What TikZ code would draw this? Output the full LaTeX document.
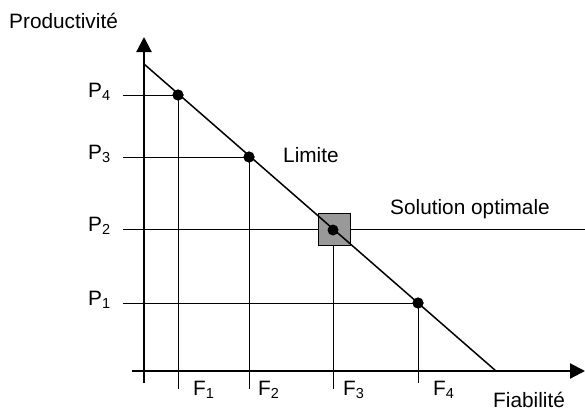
\documentclass[tikz,border=0pt]{standalone}
\usepackage{fontspec}
\setmainfont{Liberation Sans}
\usetikzlibrary{arrows.meta}
\newcommand{\mysub}[1]{\raisebox{-3.5pt}{\fontsize{14.5}{14.5}\selectfont #1}}
\begin{document}
\begin{tikzpicture}[x=1pt,y=-1pt,
  axis/.style={line width=2.2pt,-{Triangle[length=15pt,width=15pt]}},
  guide/.style={line width=0.8pt},
  limitline/.style={line width=1.5pt},
  dot/.style={circle,fill=black,inner sep=0pt,minimum size=11pt},
  optbox/.style={draw=black,line width=1pt,fill=black!40,minimum size=32pt,inner sep=0pt},
  lbl/.style={inner sep=0pt,anchor=base west,font=\fontsize{20.8}{24}\selectfont}]
\useasboundingbox (0,0) rectangle (585,412);
% coordinates
\coordinate (yb) at (144,383);
\coordinate (yt) at (144,37);
\coordinate (xl) at (132,371);
\coordinate (xr) at (585,371);
\coordinate (lt) at (144,64);
\coordinate (lb) at (496,371);
\coordinate (h4) at (123,95);
\coordinate (h3) at (123,157);
\coordinate (h2) at (123,229);
\coordinate (h1) at (123,303);
\coordinate (h2r) at (585,229);
\coordinate (v4) at (178,389);
\coordinate (v3) at (249,389);
\coordinate (v2) at (333,389);
\coordinate (v1) at (418,383);
% points
\node[dot] (d4) at (178,95) {};
\node[dot] (d3) at (249,157) {};
\node[dot] (d1) at (418,303) {};
\node[optbox] (sq) at (334,229) {};
% guides
\draw[guide] (h4) -- (d4.center) -- (v4);
\draw[guide] (h3) -- (d3.center) -- (v3);
\draw[guide] (h1) -- (d1.center) -- (v1);
\draw[guide] (h2) -- (sq.west);
\draw[guide] (sq.east) -- (h2r);
\draw[guide] (sq.south -| v2) -- (v2);
% redraw square on top of guides
\node[optbox] (sq2) at (334,229) {};
% limit line
\draw[limitline] (lt) -- (lb);
\node[dot] (d2) at (333,230) {};
\node[dot] at (d4) {};
\node[dot] at (d3) {};
\node[dot] at (d1) {};
% axes
\draw[axis] (yb) -- (yt);
\draw[axis] (xl) -- (xr);
% labels
\node[lbl] (ty) at (9,29) {Productivité};
\node[lbl] (tp4) at (88,97) {P\mysub{4}};
\node[lbl] (tp3) at (88,159) {P\mysub{3}};
\node[lbl] (tp2) at (88,231) {P\mysub{2}};
\node[lbl] (tp1) at (88,305) {P\mysub{1}};
\node[lbl] (tf1) at (193,395) {F\mysub{1}};
\node[lbl] (tf2) at (258,395) {F\mysub{2}};
\node[lbl] (tf3) at (343,395) {F\mysub{3}};
\node[lbl] (tf4) at (433,395) {F\mysub{4}};
\node[lbl] (tlim) at (283,162) {Limite};
\node[lbl] (tsol) at (390,214) {Solution optimale};
\node[lbl] (tx) at (493,407) {Fiabilité};
\end{tikzpicture}
\end{document}
